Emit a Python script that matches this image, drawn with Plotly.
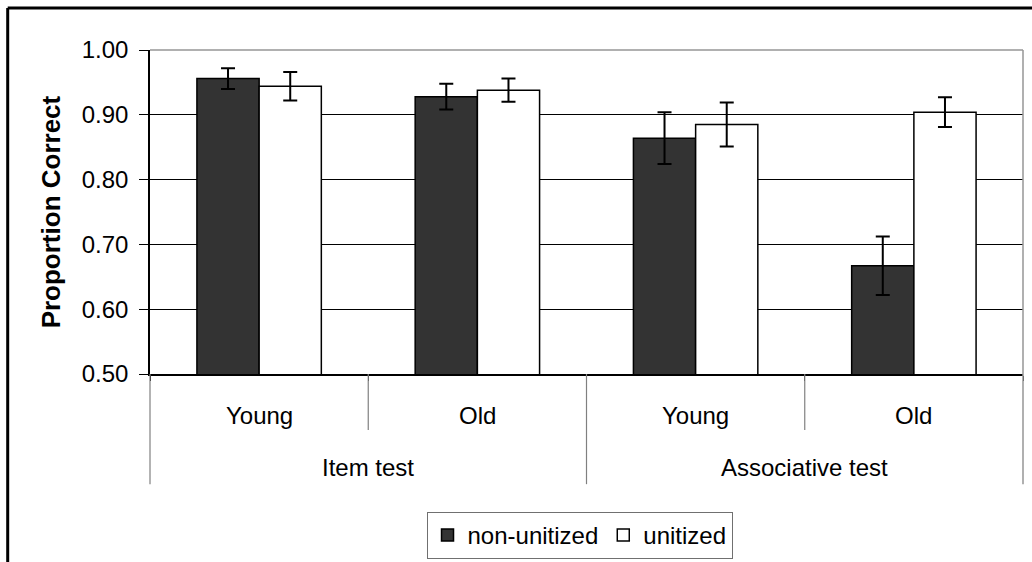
import plotly.graph_objects as go

# Proportion correct by test type, age group and encoding condition
test_groups = ["Item test", "Associative test"]
age_groups = ["Young", "Old"]

non_unitized = [0.956, 0.928, 0.864, 0.667]
non_unitized_err = [0.016, 0.020, 0.040, 0.045]
unitized = [0.944, 0.938, 0.885, 0.904]
unitized_err = [0.022, 0.018, 0.034, 0.023]

y_ticks = [0.50, 0.60, 0.70, 0.80, 0.90, 1.00]

FONT = "Liberation Sans, Arial, sans-serif"

# one slot per (test, age) pair along a numeric x axis
cells = [(t, a) for t in test_groups for a in age_groups]
xpos = list(range(len(cells)))

fig = go.Figure()
fig.add_trace(go.Bar(
    x=xpos, y=non_unitized, name="non-unitized",
    marker=dict(color="#333333", line=dict(color="#000000", width=1.5)),
    error_y=dict(type="data", array=non_unitized_err, color="#000000",
                 thickness=2, width=7),
))
fig.add_trace(go.Bar(
    x=xpos, y=unitized, name="unitized",
    marker=dict(color="#ffffff", line=dict(color="#000000", width=1.5)),
    error_y=dict(type="data", array=unitized_err, color="#000000",
                 thickness=2, width=7),
))

shapes = []
# plot-area frame on top and right (right edge continues down as outer divider)
shapes.append(dict(type="line", xref="paper", yref="paper", x0=0, x1=1, y0=1, y1=1,
                   line=dict(color="#969696", width=1.5)))
shapes.append(dict(type="line", xref="paper", yref="paper", x0=1, x1=1, y0=1, y1=-0.34,
                   line=dict(color="#969696", width=1.5)))
# group dividers below the category axis
shapes.append(dict(type="line", xref="paper", yref="paper", x0=0, x1=0, y0=0, y1=-0.34,
                   line=dict(color="#808080", width=1.2)))
n_age = len(age_groups)
for g in range(1, len(test_groups)):
    xb = g * n_age - 0.5
    shapes.append(dict(type="line", xref="x", yref="paper", x0=xb, x1=xb, y0=0, y1=-0.34,
                       line=dict(color="#808080", width=1.2)))
for g in range(len(test_groups)):
    for k in range(1, n_age):
        xb = g * n_age + k - 0.5
        shapes.append(dict(type="line", xref="x", yref="paper", x0=xb, x1=xb, y0=0, y1=-0.173,
                           line=dict(color="#808080", width=1.2)))
# outer chart border (top and left edges)
shapes.append(dict(type="line", xref="paper", yref="paper", x0=-0.163, x1=1.2, y0=1.1296, y1=1.1296,
                   line=dict(color="#000000", width=3)))
shapes.append(dict(type="line", xref="paper", yref="paper", x0=-0.163, x1=-0.163, y0=1.1296, y1=-0.8,
                   line=dict(color="#000000", width=3)))

annotations = []
for i, (t, a) in enumerate(cells):
    annotations.append(dict(x=i, y=-0.128, xref="x", yref="paper", text=a, showarrow=False,
                            xanchor="center", yanchor="middle",
                            font=dict(family=FONT, size=24, color="#000000")))
for g, t in enumerate(test_groups):
    annotations.append(dict(x=g * n_age + (n_age - 1) / 2, y=-0.29, xref="x", yref="paper",
                            text=t, showarrow=False, xanchor="center", yanchor="middle",
                            font=dict(family=FONT, size=24, color="#000000")))
annotations.append(dict(x=-0.113, y=0.5, xref="paper", yref="paper", text="<b>Proportion Correct</b>",
                        textangle=-90, showarrow=False, xanchor="center", yanchor="middle",
                        font=dict(family=FONT, size=26, color="#000000")))

fig.update_layout(
    width=1032, height=562,
    margin=dict(l=150, r=9, t=50, b=188, autoexpand=False),
    paper_bgcolor="#ffffff", plot_bgcolor="#ffffff",
    barmode="group", bargap=0.43, bargroupgap=0,
    font=dict(family=FONT, size=24, color="#000000"),
    showlegend=True,
    legend=dict(orientation="h", x=0.492, xanchor="center", y=-0.426, yanchor="top",
                bordercolor="#707070", borderwidth=1, bgcolor="#ffffff",
                font=dict(family=FONT, size=24, color="#000000"),
                itemwidth=30, traceorder="normal"),
    xaxis=dict(range=[-0.5, len(cells) - 0.5], showgrid=False, zeroline=False,
               showline=True, linecolor="#000000", linewidth=1.5,
               tickmode="array", tickvals=[i - 0.5 for i in range(len(cells) + 1)],
               ticks="outside", ticklen=5, tickcolor="#000000", showticklabels=False),
    yaxis=dict(range=[0.5, 1.0], tickmode="array", tickvals=y_ticks,
               ticktext=[f"{v:.2f}" for v in y_ticks],
               showgrid=True, gridcolor="#000000", gridwidth=1, zeroline=False,
               showline=True, linecolor="#000000", linewidth=1.5,
               ticks="outside", ticklen=9, tickcolor="#000000",
               ticklabelstandoff=6,
               tickfont=dict(family=FONT, size=24, color="#000000")),
    shapes=shapes,
    annotations=annotations,
)

fig.write_html("out.html")
